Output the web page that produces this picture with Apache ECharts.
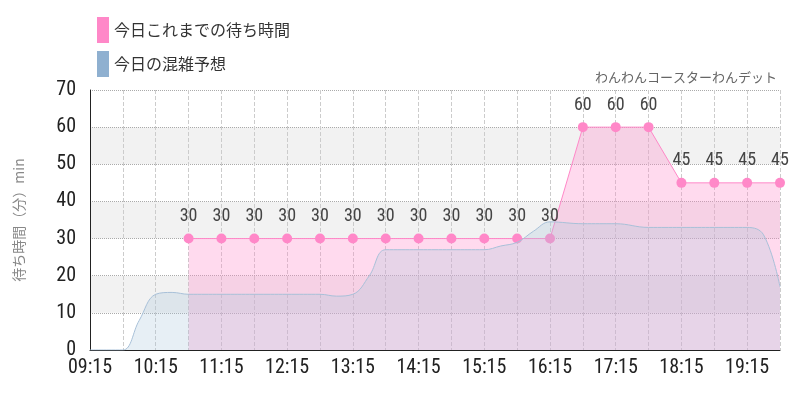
<!DOCTYPE html><html><head><meta charset="utf-8"><script src="https://cdn.jsdelivr.net/npm/echarts@6/dist/echarts.min.js"></script></head><body style="margin:0"><div id="c" style="width:800px;height:400px"></div><script>
// minutes after 09:15
const waitTimes=[[90,30],[120,30],[150,30],[180,30],[210,30],[240,30],[270,30],[300,30],[330,30],[360,30],[390,30],[420,30],[450,60],[480,60],[510,60],[540,45],[570,45],[600,45],[630,45]];
const forecast=[[0,0],[15,0],[30,0],[45,8],[60,15],[75,15.5],[90,15],[120,15],[150,15],[180,15],[210,15],[225,14.5],[240,15],[255,20],[270,27],[300,27],[330,27],[360,27],[375,28],[390,29],[405,32],[420,34.5],[450,34],[480,34],[510,33],[540,33],[570,33],[600,33],[615,31],[630,17]];
const fmt=v=>{const m=555+v;return String(Math.floor(m/60)).padStart(2,'0')+':'+String(m%60).padStart(2,'0');};
const NF="'Liberation Sans Narrow','Roboto Condensed',Roboto";
const ch=echarts.init(document.getElementById('c'));
ch.setOption({
textStyle:{fontFamily:NF},
title:{text:'わんわんコースターわんデット',right:18,top:66,textStyle:{fontSize:13,color:'#666',fontWeight:'normal',fontFamily:'Noto Sans CJK JP'}},
legend:{orient:'vertical',left:92,top:12,itemGap:8,itemWidth:12,itemHeight:26,icon:'rect',textStyle:{fontSize:16,color:'#333',fontFamily:'Noto Sans CJK JP'},data:['今日これまでの待ち時間','今日の混雑予想']},
grid:{left:90,right:20,top:90,bottom:50},
xAxis:{type:'value',min:0,max:630,interval:30,axisLine:{lineStyle:{color:'#222'}},axisTick:{show:false},
 axisLabel:{formatter:v=>v%60===0?fmt(v):'',fontSize:20,color:'#222',fontFamily:NF},
 splitLine:{show:true,lineStyle:{type:'dashed',color:'#ccc'}}},
yAxis:{type:'value',min:0,max:70,interval:10,name:'待ち時間（分）min',nameLocation:'middle',nameGap:64,nameTextStyle:{fontSize:14,color:'#888',fontFamily:'Noto Sans CJK JP'},
 axisLine:{show:true,lineStyle:{color:'#222'}},axisTick:{show:false},axisLabel:{fontSize:20,color:'#222',margin:14,fontFamily:NF},
 splitLine:{lineStyle:{type:'dotted',color:'#aaa'}},splitArea:{show:true,areaStyle:{color:['#fff','#f2f2f2']}}},
graphic:[{type:'text',right:22,bottom:58,style:{text:'https://parksreal.jp/yomiuriland/attraction/wandit.html',fontSize:14,fill:'#aaa',fontFamily:'Noto Sans'}}],
series:[
{name:'今日の混雑予想',type:'line',smooth:0.4,data:forecast,symbol:'none',itemStyle:{color:'#8fb0d0'},lineStyle:{width:1,color:'#a8c0d8'},areaStyle:{color:'rgba(168,196,220,0.4)'},z:3},
{name:'今日これまでの待ち時間',type:'line',data:waitTimes,symbol:'circle',symbolSize:10,itemStyle:{color:'#ff88c8'},lineStyle:{width:1,color:'#ff88c8'},areaStyle:{color:'rgba(255,140,200,0.45)'},
 label:{show:true,position:'top',distance:8,fontSize:18,color:'#444',fontFamily:NF},z:2}
]});
</script></body></html>
